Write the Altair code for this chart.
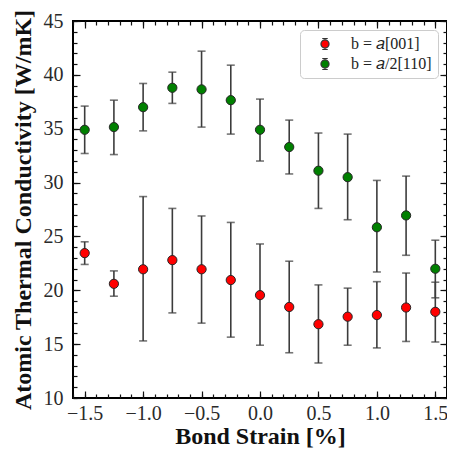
import altair as alt
import pandas as pd

FONT = "Liberation Serif"

strain = [-1.5, -1.25, -1.0, -0.75, -0.5, -0.25, 0.0, 0.25, 0.5, 0.75, 1.0, 1.25, 1.5]

red_k = [23.45, 20.6, 21.95, 22.8, 21.95, 20.95, 19.55, 18.45, 16.85, 17.55, 17.7, 18.4, 18.0]
red_lo = [22.4, 19.45, 15.3, 17.9, 16.95, 15.65, 14.9, 14.2, 13.25, 14.9, 14.65, 15.25, 15.2]
red_hi = [24.5, 21.8, 28.7, 27.6, 26.9, 26.3, 24.3, 22.7, 20.5, 20.2, 20.8, 21.6, 20.75]

green_k = [34.9, 35.15, 37.0, 38.8, 38.65, 37.65, 34.9, 33.3, 31.1, 30.5, 25.85, 26.95, 22.0]
green_lo = [32.7, 32.6, 34.8, 37.35, 35.15, 34.5, 32.0, 30.8, 27.6, 26.55, 21.7, 23.25, 19.3]
green_hi = [37.1, 37.65, 39.2, 40.25, 42.2, 40.9, 37.75, 35.8, 34.6, 34.5, 30.2, 30.6, 24.65]

series_names = ["b = \U0001D44E[001]", "b = \U0001D44E/2[110]"]
series_colors = ["#ff0000", "#008000"]

x_major = [-1.5, -1.0, -0.5, 0.0, 0.5, 1.0, 1.5]
x_minor = [-1.6, -1.5, -1.4, -1.3, -1.2, -1.1, -1.0, -0.9, -0.8, -0.7, -0.6, -0.5,
           -0.4, -0.3, -0.2, -0.1, 0.0, 0.1, 0.2, 0.3, 0.4, 0.5, 0.6, 0.7, 0.8,
           0.9, 1.0, 1.1, 1.2, 1.3, 1.4, 1.5, 1.6]
y_major = [10, 15, 20, 25, 30, 35, 40, 45]
y_minor = list(range(10, 46))

rows = []
for i, s in enumerate(strain):
    rows.append(dict(strain=s, k=red_k[i], lo=red_lo[i], hi=red_hi[i], series=series_names[0]))
for i, s in enumerate(strain):
    rows.append(dict(strain=s, k=green_k[i], lo=green_lo[i], hi=green_hi[i], series=series_names[1]))
df = pd.DataFrame(rows)

xs = alt.Scale(domain=[-1.6, 1.6], nice=False, zero=False)
ys = alt.Scale(domain=[10, 45], nice=False, zero=False)


def axis(orient, values, size, labels=False, title=None, fmt=None, pad=0, tpad=None):
    kw = dict(orient=orient, values=values, tickSize=alt.ExprRef(expr=str(-size)),
              labels=labels, domain=False, grid=False, title=title,
              labelFont=FONT, labelFontSize=20, labelColor="#2a2a2a",
              titleFont=FONT, titleFontSize=24, titleFontWeight="bold",
              titleColor="#111111", tickColor="#111111", tickWidth=1.2)
    if labels:
        kw["labelPadding"] = size + pad
    if fmt:
        kw["format"] = fmt
    if tpad is not None:
        kw["titlePadding"] = tpad
    return alt.Axis(**kw)


base = alt.Chart(df)
ebar_color = "#3c3c3c"

rules = base.mark_rule(color=ebar_color, strokeWidth=1.6).encode(
    x=alt.X("strain:Q", scale=xs,
            axis=axis("bottom", x_major, 7, labels=True, title="Bond Strain [%]",
                      fmt=".1f", pad=5, tpad=1)),
    y=alt.Y("lo:Q", scale=ys,
            axis=axis("left", y_major, 7, labels=True,
                      title="Atomic Thermal Conductivity [W/mK]", fmt="d", pad=10,
                      tpad=8)),
    y2="hi:Q",
)

caps_lo = base.mark_tick(orient="horizontal", size=8, thickness=1.6, color=ebar_color).encode(
    x=alt.X("strain:Q", scale=xs, axis=axis("bottom", x_minor, 4)),
    y=alt.Y("lo:Q", scale=ys, axis=axis("left", y_minor, 4)),
)

caps_hi = base.mark_tick(orient="horizontal", size=8, thickness=1.6, color=ebar_color).encode(
    x=alt.X("strain:Q", scale=xs, axis=axis("top", x_major, 7)),
    y=alt.Y("hi:Q", scale=ys, axis=axis("right", y_major, 7)),
)

legend_symbol = ("M0,-1L0,-0.74M-0.5,-1L0.5,-1M0,0.74L0,1M-0.5,1L0.5,1"
                 "M-0.74,0A0.74,0.74,0,1,0,0.74,0A0.74,0.74,0,1,0,-0.74,0Z")

points = base.mark_circle(size=85, stroke="#262626", strokeWidth=1, opacity=1).encode(
    x=alt.X("strain:Q", scale=xs, axis=axis("top", x_minor, 4)),
    y=alt.Y("k:Q", scale=ys, axis=axis("right", y_minor, 4)),
    color=alt.Color("series:N",
                    scale=alt.Scale(domain=series_names, range=series_colors),
                    legend=alt.Legend(title=None, orient="top-right", offset=9,
                                      symbolType=legend_symbol, symbolSize=120,
                                      symbolStrokeColor="#333333", symbolStrokeWidth=1.2,
                                      symbolOffset=11,
                                      labelFont=FONT, labelFontSize=16, labelColor="#222222",
                                      labelOffset=18, strokeColor="#cccccc",
                                      fillColor="white", cornerRadius=4, padding=6,
                                      rowPadding=4)),
)

chart = (
    alt.layer(rules, caps_lo, caps_hi, points)
    .resolve_axis(x="independent", y="independent")
    .properties(width=374, height=377,
                autosize=alt.AutoSizeParams(type="none"),
                padding={"left": 65, "top": 13, "right": 0, "bottom": 50})
    .configure_view(stroke="black", strokeWidth=2)
)

chart.save("out.html", embed_options={"renderer": "svg", "actions": False})
